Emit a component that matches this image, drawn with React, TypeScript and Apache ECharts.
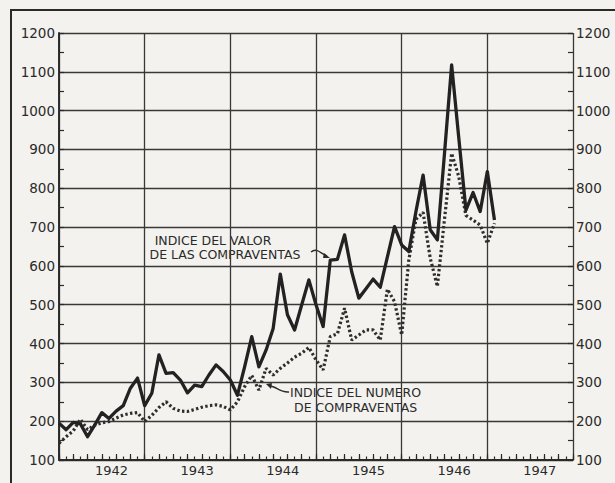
import React, { useEffect, useRef } from "react";
import * as echarts from "echarts";

// Monthly index 0 = Jan 1942
const valor = [
  195, 178, 197, 193, 160, 190, 222, 207, 226, 240, 285, 311,
  240, 272, 371, 323, 325, 306, 273, 293, 289, 319, 345, 328,
  306, 267, 340, 418, 340, 383, 439, 579, 474, 435, 500, 564,
  500, 444, 615, 617, 680, 585, 517, 541, 566, 545, 623, 701,
  654, 637, 740, 834, 693, 667, 890, 1118, 930, 744, 789, 740,
  843, 718,
];
const numero = [
  143, 160, 175, 205, 178, 190, 196, 199, 208, 216, 220, 222,
  199, 215, 235, 250, 233, 226, 225, 230, 236, 240, 242, 238,
  229, 250, 289, 318, 280, 336, 319, 336, 350, 365, 375, 390,
  358, 332, 418, 425, 491, 409, 422, 435, 435, 409, 540, 508,
  422, 615, 720, 738, 620, 547, 720, 890, 830, 730, 718, 705,
  658, 710,
];
const yearLabels = ["1942", "1943", "1944", "1945", "1946", "1947"];
const labelValor = ["INDICE DEL VALOR", "DE LAS COMPRAVENTAS"];
const labelNumero = ["INDICE DEL NUMERO", "DE COMPRAVENTAS"];

const INK = "#2a2a2a";
const FONT = "DejaVu Sans";

export default function App() {
  const ref = useRef<HTMLDivElement>(null);
  useEffect(() => {
    if (!ref.current) return;
    const chart = echarts.init(ref.current, undefined, { renderer: "svg" });
    const labelOffset = 7.35;
    const yAxisBase = {
      type: "value",
      min: 100,
      max: 1200,
      interval: 100,
      axisLine: { show: true, lineStyle: { color: INK, width: 1.6 } },
      axisTick: { show: false },
      axisLabel: {
        color: INK,
        fontFamily: FONT,
        fontSize: 13.5,
        margin: 4,
        formatter: (v: number) => String(v),
      },
    };
    const tickAxisY = (position: string) => ({
      type: "value",
      min: 100,
      max: 1200,
      interval: 50,
      position,
      axisLine: { show: false },
      axisTick: { show: true, inside: true, length: 5, lineStyle: { color: INK, width: 1.2 } },
      axisLabel: { show: false },
      splitLine: { show: false },
    });
    const tickAxisX = (interval: number, length: number) => ({
      type: "value",
      min: 0,
      max: 72,
      interval,
      position: "bottom",
      axisLine: { show: false, onZero: false },
      axisTick: { show: true, inside: true, length, lineStyle: { color: INK, width: 1.2 } },
      splitLine: { show: false },
      axisLabel: { show: false },
    });
    const txt = (text: string, x: number, y: number, align: string) => ({
      type: "text",
      x,
      y,
      style: {
        text,
        fill: INK,
        font: `500 12.5px "${FONT}"`,
        align,
        verticalAlign: "middle",
      },
    });
    chart.setOption({
      animation: false,
      backgroundColor: "#f3f2ee",
      grid: { left: 59, right: 42, top: 33, bottom: 23, containLabel: false },
      xAxis: [
        {
          type: "value",
          min: 0,
          max: 72,
          interval: 12,
          position: "bottom",
          axisLine: { show: true, onZero: false, lineStyle: { color: INK, width: 1.8 } },
          axisTick: { show: false },
          splitLine: { show: true, lineStyle: { color: "#383838", width: 1.3 } },
          axisLabel: {
            customValues: yearLabels.map((_, k) => labelOffset + 12 * k),
            formatter: (v: number) => yearLabels[Math.round((v - labelOffset) / 12)] || "",
            color: INK,
            fontFamily: FONT,
            fontSize: 13,
            margin: 4,
          },
        },
        tickAxisX(1, 3.5),
        tickAxisX(2, 6),
      ],
      yAxis: [
        {
          ...yAxisBase,
          position: "left",
          splitLine: { show: true, lineStyle: { color: "#383838", width: 1.3 } },
        },
        {
          ...yAxisBase,
          position: "right",
          splitLine: { show: false },
          axisLabel: { ...yAxisBase.axisLabel, margin: 3 },
        },
        tickAxisY("left"),
        tickAxisY("right"),
      ],
      series: [
        {
          type: "line",
          name: "numero",
          xAxisIndex: 0,
          yAxisIndex: 0,
          data: numero.map((v, i) => [i, v]),
          symbol: "none",
          lineStyle: { color: "#2e2e2e", width: 3.2, type: [2.4, 2.4], cap: "butt" },
          z: 3,
        },
        {
          type: "line",
          name: "valor",
          xAxisIndex: 0,
          yAxisIndex: 0,
          data: valor.map((v, i) => [i, v]),
          symbol: "none",
          lineStyle: { color: "#222", width: 3.3, join: "round" },
          z: 4,
        },
      ],
      graphic: [
        {
          type: "rect",
          shape: { x: 11, y: 10, width: 640, height: 540 },
          style: { fill: "none", stroke: INK, lineWidth: 2 },
          silent: true,
        },
        txt(labelValor[0], 213, 240, "center"),
        txt(labelValor[1], 225, 254, "center"),
        txt(labelNumero[0], 290, 392, "left"),
        txt(labelNumero[1], 294, 407, "left"),
        {
          type: "bezierCurve",
          shape: { x1: 311, y1: 252, cpx1: 317, cpy1: 247, cpx2: 321, cpy2: 254, x2: 327, y2: 256 },
          style: { stroke: INK, lineWidth: 1.4, fill: "none" },
        },
        {
          type: "polygon",
          shape: { points: [[330, 258], [324, 253], [323, 258]] },
          style: { fill: INK },
        },
        {
          type: "bezierCurve",
          shape: { x1: 289, y1: 392, cpx1: 280, cpy1: 393, cpx2: 276, cpy2: 386, x2: 270, y2: 386 },
          style: { stroke: INK, lineWidth: 1.4, fill: "none" },
        },
        {
          type: "polygon",
          shape: { points: [[266, 384], [272, 383], [271, 389]] },
          style: { fill: INK },
        },
      ],
    });
    return () => chart.dispose();
  }, []);
  return (
    <div
      ref={ref}
      style={{ position: "fixed", left: 0, top: 0, width: 615, height: 483 }}
    />
  );
}
